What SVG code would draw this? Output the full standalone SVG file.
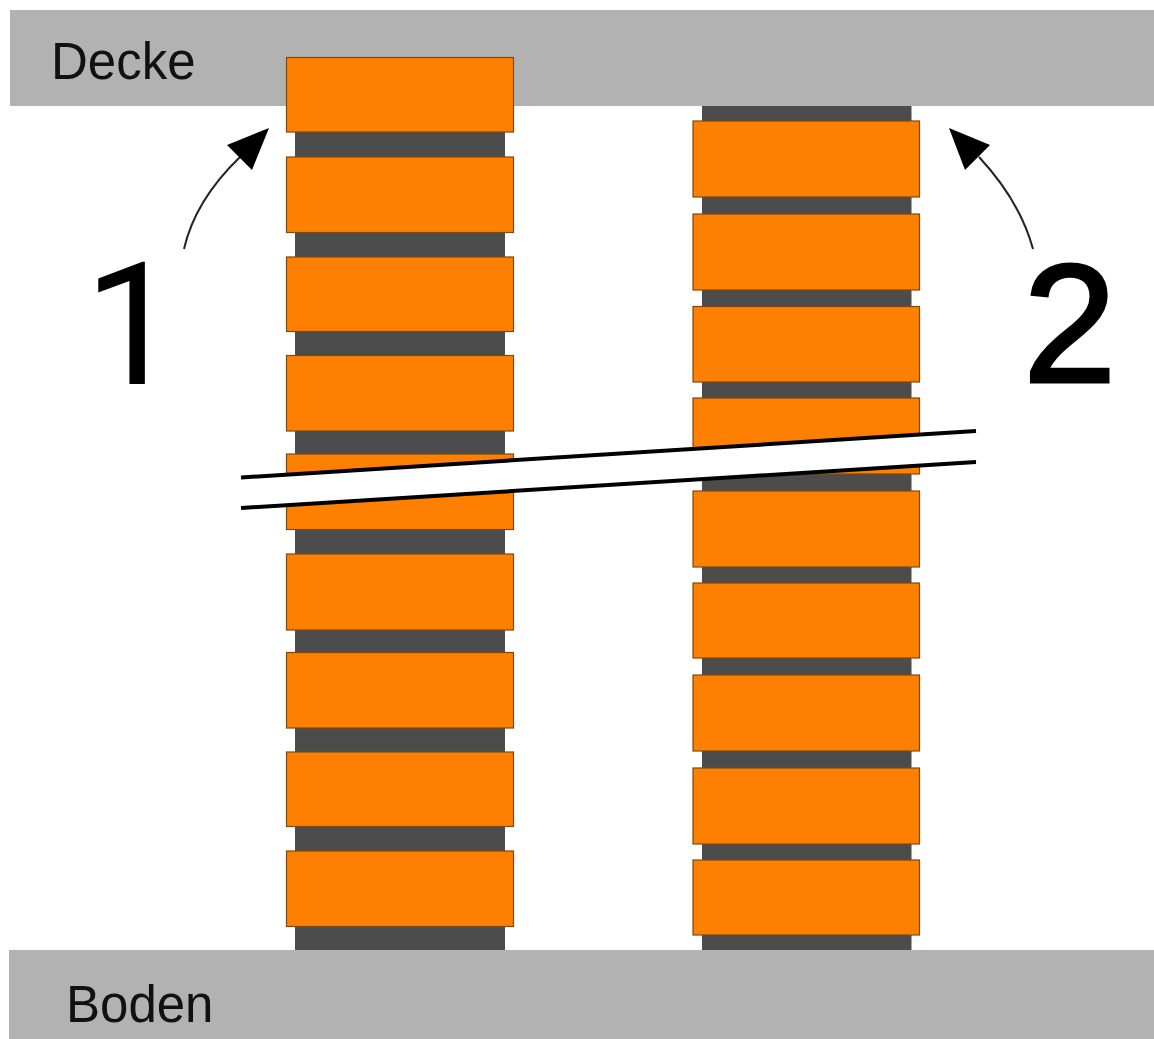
<svg xmlns="http://www.w3.org/2000/svg" width="1154" height="1039" viewBox="0 0 1154 1039">
<style>
.band{fill:#b2b2b2}
.core{fill:#4c4c4c}
.brick{fill:#ff8000;stroke:#7a4a10;stroke-width:1.2}
.cut{fill:#fff;stroke:none}
.edge{stroke:#000;stroke-width:4;fill:none}
.curve{stroke:#222;stroke-width:2;fill:none}
.head{fill:#000}
text{font-family:"Liberation Sans",Arial,sans-serif;fill:#111}
.lbl{font-size:51px}
.one{font-family:Roboto,"Liberation Sans",sans-serif;font-size:171px;fill:#000}
.two{font-size:168px;fill:#000;stroke:#000;stroke-width:3}
</style>
<rect width="1154" height="1039" fill="#fff"/>
<g id="decke"><rect class="band" x="10" y="10" width="1144" height="96"/><text class="lbl" x="51" y="79">Decke</text></g>
<g id="boden"><rect class="band" x="9" y="950" width="1145" height="89"/><text class="lbl" x="66" y="1022">Boden</text></g>
<g id="stack1">
<rect class="core" x="295" y="132" width="210" height="818"/>
<rect class="brick" x="286.5" y="57.5" width="227" height="74.5"/>
<rect class="brick" x="286.5" y="157" width="227" height="75.5"/>
<rect class="brick" x="286.5" y="257" width="227" height="74.5"/>
<rect class="brick" x="286.5" y="355.5" width="227" height="75.5"/>
<rect class="brick" x="286.5" y="454" width="227" height="75.5"/>
<rect class="brick" x="286.5" y="554" width="227" height="76"/>
<rect class="brick" x="286.5" y="652.5" width="227" height="75.5"/>
<rect class="brick" x="286.5" y="752" width="227" height="74.5"/>
<rect class="brick" x="286.5" y="851" width="227" height="75.5"/>
</g>
<g id="stack2">
<rect class="core" x="702" y="106" width="209.5" height="844"/>
<rect class="brick" x="693" y="121" width="226.5" height="76"/>
<rect class="brick" x="693" y="214" width="226.5" height="76"/>
<rect class="brick" x="693" y="306.5" width="226.5" height="75.5"/>
<rect class="brick" x="693" y="398" width="226.5" height="76"/>
<rect class="brick" x="693" y="491" width="226.5" height="76"/>
<rect class="brick" x="693" y="583" width="226.5" height="75"/>
<rect class="brick" x="693" y="675" width="226.5" height="76"/>
<rect class="brick" x="693" y="768" width="226.5" height="76"/>
<rect class="brick" x="693" y="860" width="226.5" height="75"/>
</g>
<g id="break">
<polygon class="cut" points="241,477.5 976,431 976,462 241,508"/>
<line class="edge" x1="241" y1="477.5" x2="976" y2="431"/>
<line class="edge" x1="241" y1="508" x2="976" y2="462"/>
</g>
<g id="connectors">
<path class="curve" d="M184 249C192 214 212 184 240 157"/>
<polygon class="head" points="269,128 227,145 252,170"/>
<path class="curve" d="M1033 249C1024 216 1006 186 979 157"/>
<polygon class="head" points="949,128 990,145 965,170"/>
</g>
<g id="label1"><text class="one" x="84" y="384">1</text></g>
<g id="label2"><text class="two" x="1023" y="382">2</text></g>
</svg>
